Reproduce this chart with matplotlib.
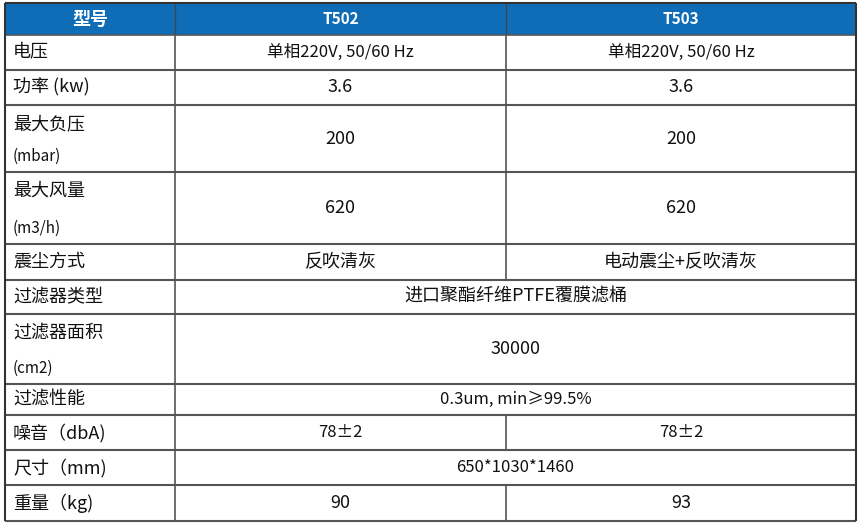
import matplotlib
matplotlib.use("Agg")
import matplotlib.pyplot as plt
from matplotlib.patches import Rectangle

plt.rcParams["font.family"] = ["Noto Sans CJK SC", "DejaVu Sans"]

headers = ["型号", "T502", "T503"]
params = ["电压", "功率 (kw)", "最大负压\n(mbar)", "最大风量\n(m3/h)", "震尘方式", "过滤器类型",
          "过滤器面积\n(cm2)", "过滤性能", "噪音（dbA)", "尺寸（mm)", "重量（kg)"]
t502 = ["单相220V, 50/60 Hz", "3.6", "200", "620", "反吹清灰", "进口聚酯纤维PTFE覆膜滤桶",
        "30000", "0.3um, min≥99.5%", "78±2", "650*1030*1460", "90"]
t503 = ["单相220V, 50/60 Hz", "3.6", "200", "620", "电动震尘+反吹清灰", None,
        None, None, "78±2", None, "93"]

row_edges = [3, 35, 70, 105, 172, 244, 280, 314, 384, 415, 450, 485, 521]
col_edges = [5, 175, 506, 856]

fig = plt.figure(figsize=(8.6, 5.26), dpi=100)
ax = fig.add_axes([0, 0, 1, 1])
ax.set_xlim(0, 860)
ax.set_ylim(526, 0)
ax.axis("off")

hc = "#0f6db8"
ax.add_patch(Rectangle((col_edges[0], row_edges[0]), col_edges[-1]-col_edges[0],
                       row_edges[1]-row_edges[0], facecolor=hc, edgecolor="none"))
for i, h in enumerate(headers):
    cx = (col_edges[i] + col_edges[i+1]) / 2
    ax.text(cx, (row_edges[0]+row_edges[1])/2, h, color="white", fontsize=13 if i == 0 else 11,
            fontweight="bold", ha="center", va="center")
ax.vlines(col_edges[1:3], row_edges[0], row_edges[1], color="#444444", lw=1)

lc = "#555555"
for r in range(len(params)):
    y0, y1 = row_edges[r+1], row_edges[r+2]
    ym = (y0 + y1) / 2
    lines = params[r].split("\n")
    if len(lines) == 1:
        ax.text(13, ym, lines[0], fontsize=13, ha="left", va="center", color="#111111")
    else:
        ax.text(13, y0 + 19, lines[0], fontsize=13, ha="left", va="center", color="#111111")
        ax.text(13, y1 - 16, lines[1], fontsize=11, ha="left", va="center", color="#111111")
    fs = 12 if r in (0, 7, 8, 9) else 13
    if r == 0:
        fs = 12
    if t503[r] is None:
        ax.text((col_edges[1]+col_edges[3])/2, ym, t502[r], fontsize=fs, ha="center", va="center", color="#111111")
    else:
        ax.text((col_edges[1]+col_edges[2])/2, ym, t502[r], fontsize=fs, ha="center", va="center", color="#111111")
        ax.text((col_edges[2]+col_edges[3])/2, ym, t503[r], fontsize=fs, ha="center", va="center", color="#111111")
        ax.vlines(col_edges[2], y0, y1, color=lc, lw=1.2)
    ax.vlines(col_edges[1], y0, y1, color=lc, lw=1.2)
    ax.hlines(y1, col_edges[0], col_edges[3], color=lc, lw=1.5)

ax.hlines(row_edges[0], col_edges[0], col_edges[3], color="#333333", lw=1.5)
ax.hlines(row_edges[1], col_edges[0], col_edges[3], color=lc, lw=1.2)
ax.vlines([col_edges[0], col_edges[3]], row_edges[0], row_edges[-1], color="#333333", lw=1.5)

fig.savefig("out.png", dpi=100)
